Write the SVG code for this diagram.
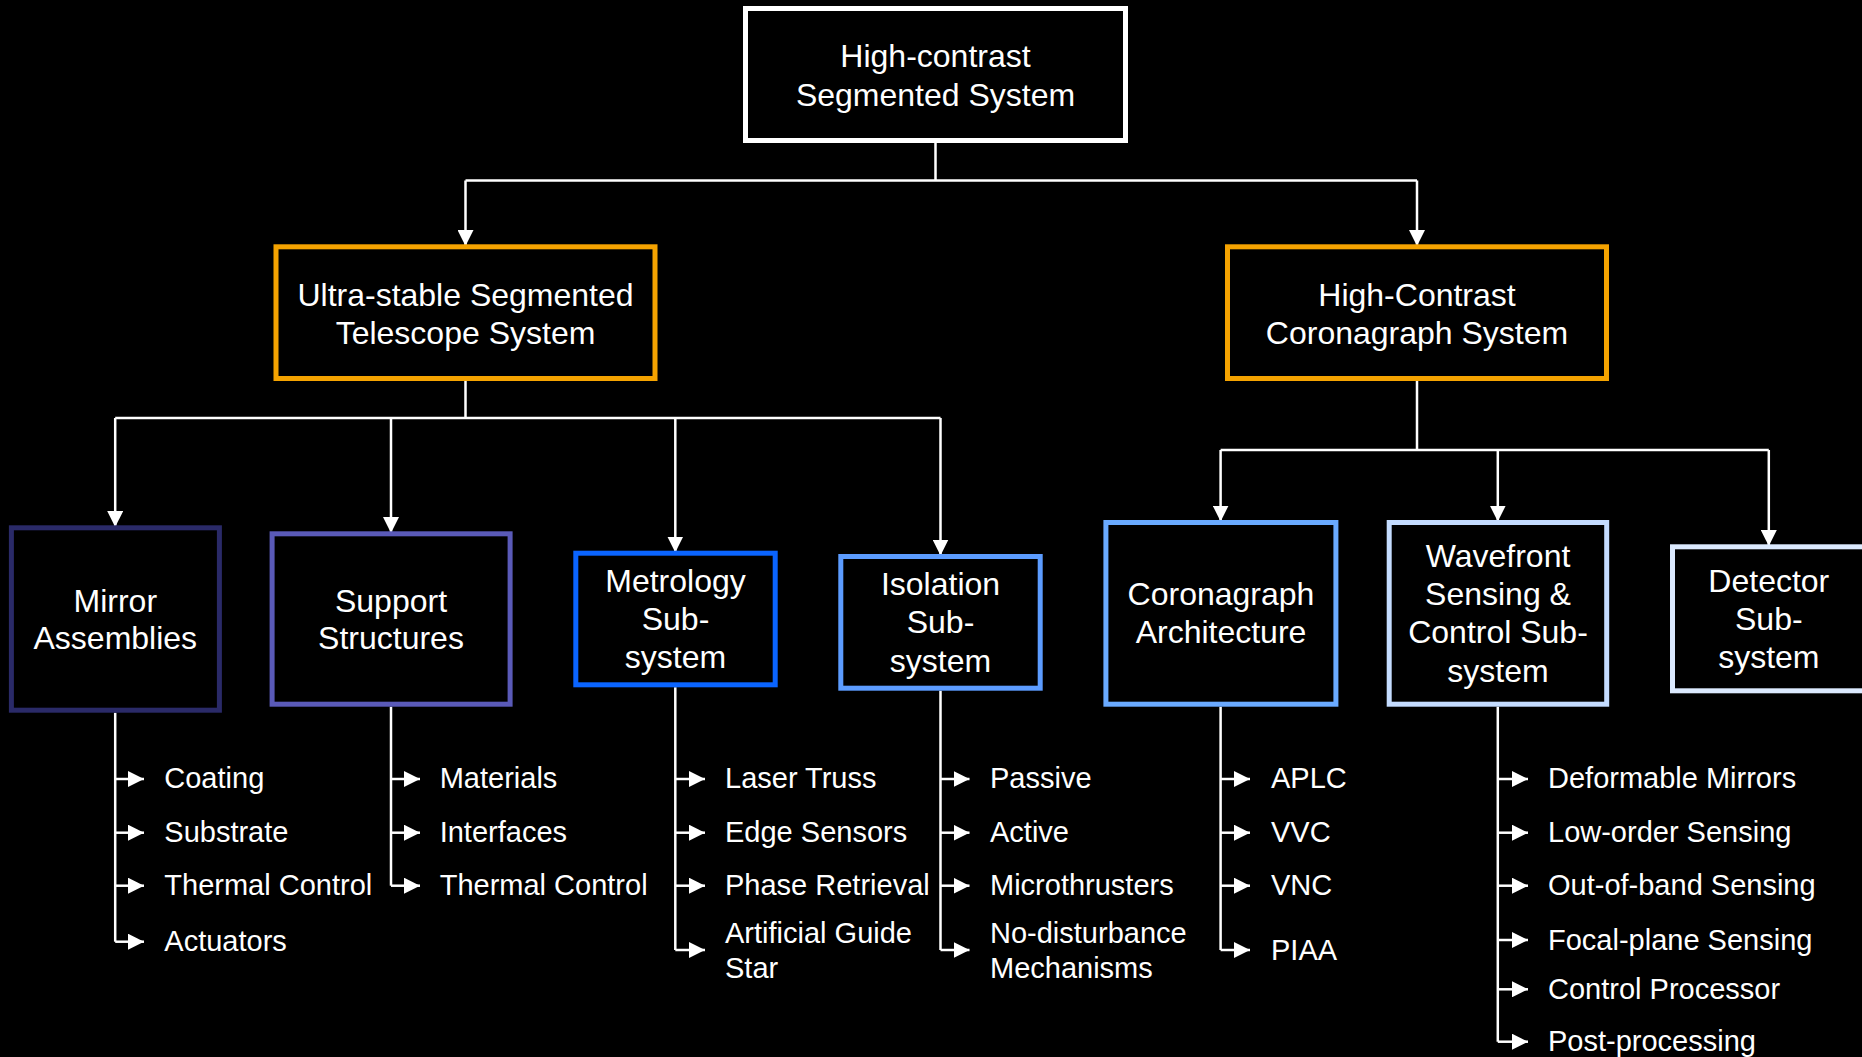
<svg xmlns="http://www.w3.org/2000/svg" width="1862" height="1057" viewBox="0 0 1862 1057">
<style>
.bg{fill:#000}
.box{fill:#000;stroke-width:5}
.t{font-family:"Liberation Sans",Arial,sans-serif;font-size:32px;fill:#fff;text-anchor:middle}
.s{font-family:"Liberation Sans",Arial,sans-serif;font-size:29px;fill:#fff}
.c{fill:none;stroke:#fff;stroke-width:2.5}
.a{fill:none;stroke:#fff;stroke-width:2.5;marker-end:url(#ah)}
</style>
<defs>
<marker id="ah" viewBox="0 0 16 16" refX="16" refY="8" markerWidth="16" markerHeight="16" markerUnits="userSpaceOnUse" orient="auto">
<path d="M0,0 L16,8 L0,16 z" fill="#fff"/>
</marker>
</defs>
<rect class="bg" x="0" y="0" width="1862" height="1057"/>

<g id="connectors">
<path class="c" d="M935.5,143 V180.5 M465.5,180.5 H1417"/>
<path class="a" d="M465.5,180.5 V246"/>
<path class="a" d="M1417,180.5 V246"/>
<path class="c" d="M465.5,381 V418 M115.2,418 H940.5"/>
<path class="a" d="M115.2,418 V527"/>
<path class="a" d="M391,418 V533"/>
<path class="a" d="M675.3,418 V552.5"/>
<path class="a" d="M940.5,418 V555.5"/>
<path class="c" d="M1417,381 V450 M1220.6,450 H1768.8"/>
<path class="a" d="M1220.6,450 V521.5"/>
<path class="a" d="M1497.8,450 V521.5"/>
<path class="a" d="M1768.8,450 V546"/>
<!-- Mirror branch -->
<path class="c" d="M115.2,712.7 V941.7"/>
<path class="a" d="M115.2,779 H144"/>
<path class="a" d="M115.2,832.7 H144"/>
<path class="a" d="M115.2,885.7 H144"/>
<path class="a" d="M115.2,941.7 H144"/>
<!-- Support branch -->
<path class="c" d="M391,706.7 V885.7"/>
<path class="a" d="M391,779 H420"/>
<path class="a" d="M391,832.7 H420"/>
<path class="a" d="M391,885.7 H420"/>
<!-- Metrology branch -->
<path class="c" d="M675.3,687.3 V950"/>
<path class="a" d="M675.3,779 H705"/>
<path class="a" d="M675.3,832.7 H705"/>
<path class="a" d="M675.3,885.7 H705"/>
<path class="a" d="M675.3,950 H705"/>
<!-- Isolation branch -->
<path class="c" d="M940.5,690.7 V950"/>
<path class="a" d="M940.5,779 H969.5"/>
<path class="a" d="M940.5,832.7 H969.5"/>
<path class="a" d="M940.5,885.7 H969.5"/>
<path class="a" d="M940.5,950 H969.5"/>
<!-- Coronagraph branch -->
<path class="c" d="M1220.6,706.7 V950"/>
<path class="a" d="M1220.6,779 H1250"/>
<path class="a" d="M1220.6,832.7 H1250"/>
<path class="a" d="M1220.6,885.7 H1250"/>
<path class="a" d="M1220.6,950 H1250"/>
<!-- Wavefront branch -->
<path class="c" d="M1497.8,706.7 V1041.7"/>
<path class="a" d="M1497.8,779 H1528"/>
<path class="a" d="M1497.8,832.7 H1528"/>
<path class="a" d="M1497.8,885.7 H1528"/>
<path class="a" d="M1497.8,940 H1528"/>
<path class="a" d="M1497.8,989.3 H1528"/>
<path class="a" d="M1497.8,1041.7 H1528"/>
</g>

<g id="n-top">
<rect class="box" x="745.5" y="8.5" width="380" height="132" stroke="#fff"/>
<text class="t" x="935.5" y="67">High-contrast</text>
<text class="t" x="935.5" y="106">Segmented System</text>
</g>
<g id="n-telescope">
<rect class="box" x="276" y="246.8" width="379" height="131.7" stroke="#F5A300"/>
<text class="t" x="465.5" y="305.5">Ultra-stable Segmented</text>
<text class="t" x="465.5" y="343.5">Telescope System</text>
</g>
<g id="n-coronagraph-system">
<rect class="box" x="1227.5" y="246.8" width="379" height="131.7" stroke="#F5A300"/>
<text class="t" x="1417" y="305.5">High-Contrast</text>
<text class="t" x="1417" y="343.5">Coronagraph System</text>
</g>
<g id="n-mirror">
<rect class="box" x="11.4" y="527.8" width="208" height="182.4" stroke="#2A2A68"/>
<text class="t" x="115.3" y="611.7">Mirror</text>
<text class="t" x="115.3" y="649.3">Assemblies</text>
</g>
<g id="n-support">
<rect class="box" x="272.1" y="533.8" width="238" height="170.4" stroke="#5A5AB8"/>
<text class="t" x="391" y="611.7">Support</text>
<text class="t" x="391" y="649.3">Structures</text>
</g>
<g id="n-metrology">
<rect class="box" x="575.8" y="553.2" width="199.4" height="131.6" stroke="#0A64FF"/>
<text class="t" x="675.5" y="591.7">Metrology</text>
<text class="t" x="675.5" y="630">Sub-</text>
<text class="t" x="675.5" y="668">system</text>
</g>
<g id="n-isolation">
<rect class="box" x="840.8" y="556.5" width="199.4" height="131.7" stroke="#5C9CFF"/>
<text class="t" x="940.5" y="595">Isolation</text>
<text class="t" x="940.5" y="633.3">Sub-</text>
<text class="t" x="940.5" y="671.7">system</text>
</g>
<g id="n-coronagraph-arch">
<rect class="box" x="1105.9" y="522.5" width="230" height="181.7" stroke="#6AAAFF"/>
<text class="t" x="1221" y="605">Coronagraph</text>
<text class="t" x="1221" y="643.3">Architecture</text>
</g>
<g id="n-wavefront">
<rect class="box" x="1389.2" y="522.5" width="217.5" height="181.7" stroke="#C4DCFF"/>
<text class="t" x="1498" y="566.7">Wavefront</text>
<text class="t" x="1498" y="605">Sensing &amp;</text>
<text class="t" x="1498" y="643.3">Control Sub-</text>
<text class="t" x="1498" y="681.7">system</text>
</g>
<g id="n-detector">
<rect class="box" x="1672.5" y="546.8" width="192.6" height="144" stroke="#DCEAFF"/>
<text class="t" x="1768.8" y="591.7">Detector</text>
<text class="t" x="1768.8" y="630">Sub-</text>
<text class="t" x="1768.8" y="668.3">system</text>
</g>

<g id="items-mirror">
<text class="s" x="164.3" y="788.3">Coating</text>
<text class="s" x="164.3" y="842.2">Substrate</text>
<text class="s" x="164.3" y="895.2">Thermal Control</text>
<text class="s" x="164.3" y="951">Actuators</text>
</g>
<g id="items-support">
<text class="s" x="439.7" y="788.3">Materials</text>
<text class="s" x="439.7" y="842.2">Interfaces</text>
<text class="s" x="439.7" y="895.2">Thermal Control</text>
</g>
<g id="items-metrology">
<text class="s" x="725" y="788.3">Laser Truss</text>
<text class="s" x="725" y="842.2">Edge Sensors</text>
<text class="s" x="725" y="895.2">Phase Retrieval</text>
<text class="s" x="725" y="942.7">Artificial Guide</text>
<text class="s" x="725" y="978.3">Star</text>
</g>
<g id="items-isolation">
<text class="s" x="990" y="788.3">Passive</text>
<text class="s" x="990" y="842.2">Active</text>
<text class="s" x="990" y="895.2">Microthrusters</text>
<text class="s" x="990" y="942.7">No-disturbance</text>
<text class="s" x="990" y="978.3">Mechanisms</text>
</g>
<g id="items-coronagraph">
<text class="s" x="1271" y="788.3">APLC</text>
<text class="s" x="1271" y="842.2">VVC</text>
<text class="s" x="1271" y="895.2">VNC</text>
<text class="s" x="1271" y="959.5">PIAA</text>
</g>
<g id="items-wavefront">
<text class="s" x="1548" y="788.3">Deformable Mirrors</text>
<text class="s" x="1548" y="842.2">Low-order Sensing</text>
<text class="s" x="1548" y="895.2">Out-of-band Sensing</text>
<text class="s" x="1548" y="949.5">Focal-plane Sensing</text>
<text class="s" x="1548" y="998.8">Control Processor</text>
<text class="s" x="1548" y="1051.2">Post-processing</text>
</g>
</svg>
